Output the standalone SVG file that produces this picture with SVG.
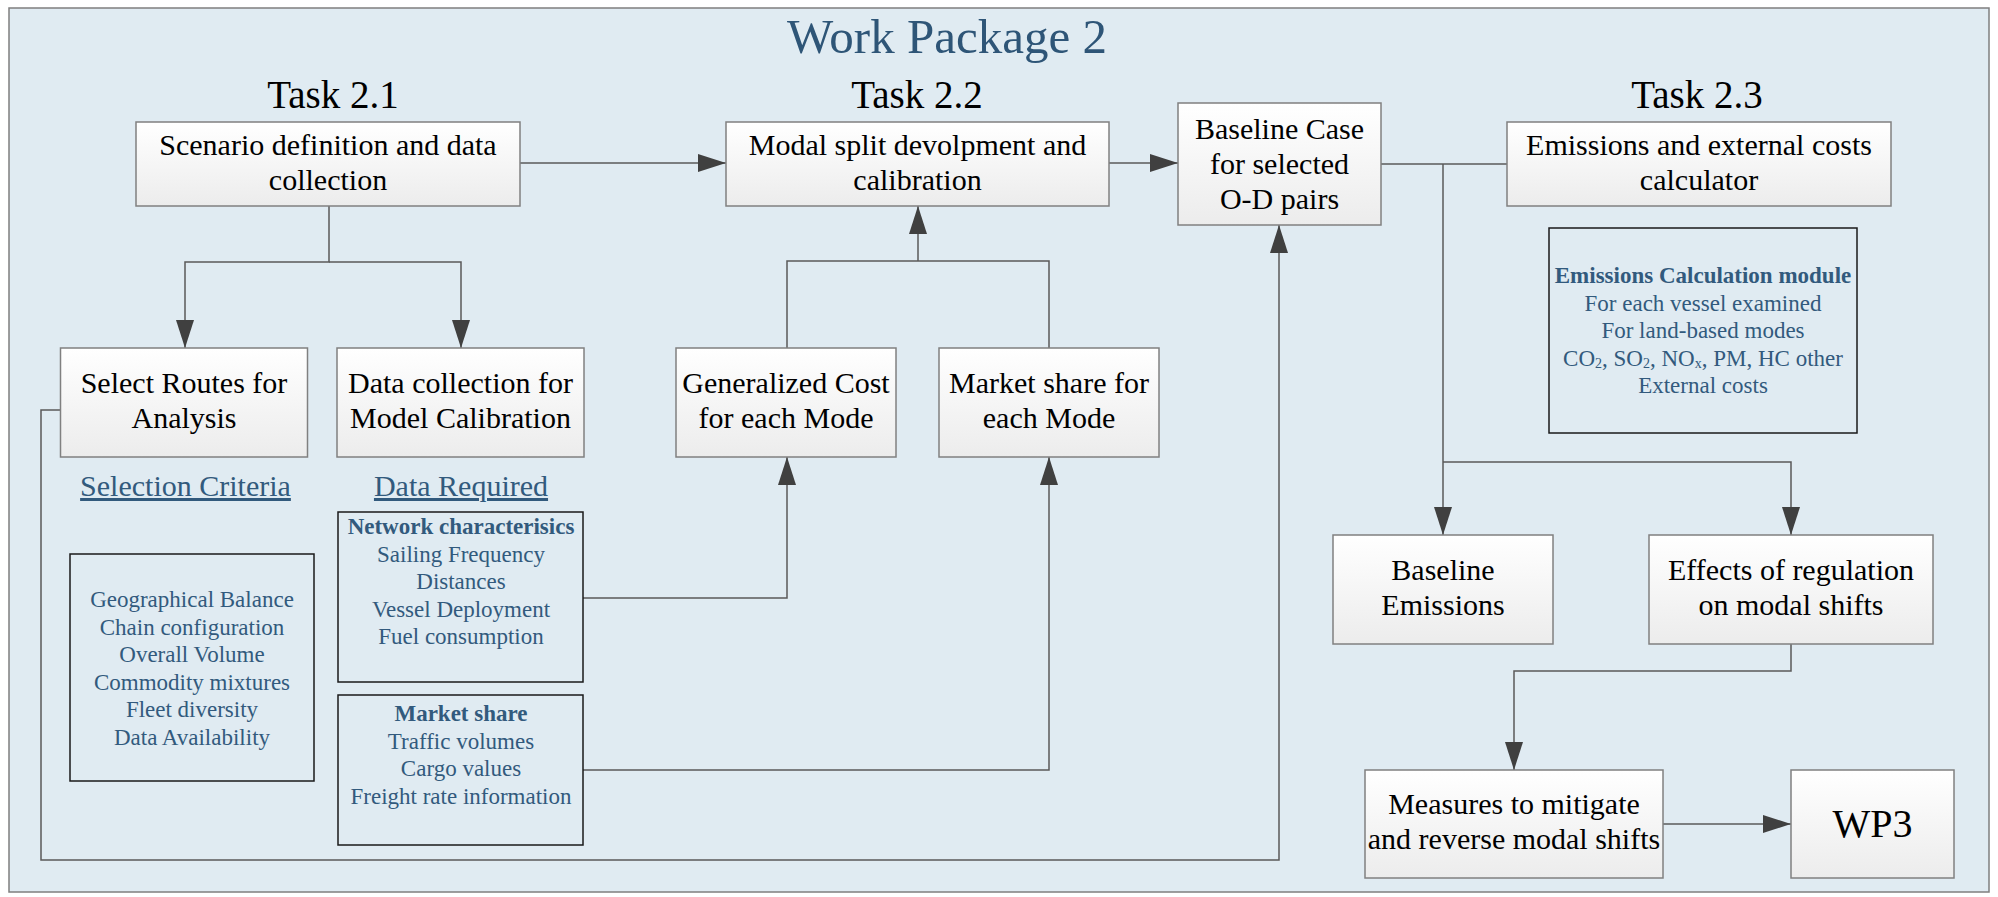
<svg xmlns="http://www.w3.org/2000/svg" width="1998" height="897" viewBox="0 0 1998 897">
<defs>
<linearGradient id="g" x1="0" y1="0" x2="0" y2="1">
<stop offset="0" stop-color="#FFFFFF"/>
<stop offset="1" stop-color="#ECECEC"/>
</linearGradient>
<marker id="a" viewBox="0 0 28 18" refX="28" refY="9" markerWidth="28" markerHeight="18" markerUnits="userSpaceOnUse" orient="auto">
<path d="M0,0 L28,9 L0,18 Z" fill="#404040"/>
</marker>
<style>
text{font-family:'Liberation Serif','Times New Roman','DejaVu Serif',serif}
.node{fill:url(#g);stroke:#808080;stroke-width:1.5}
.info{fill:none;stroke:#1A1A1A;stroke-width:1.5}
.t{font-size:30px;fill:#000;text-anchor:middle}
.h{font-size:39px;fill:#000;text-anchor:middle}
.b{font-size:23px;fill:#325A7D;text-anchor:middle}
.bb{font-weight:bold}
.u{font-size:30px;fill:#325A7D;text-anchor:middle;text-decoration:underline}
.c{fill:none;stroke:#5A5A5A;stroke-width:1.5}
</style>
</defs>
<rect x="9" y="8" width="1980" height="884" fill="#E0EBF2" stroke="#7F7F7F" stroke-width="1.5"/>
<text x="947" y="53" font-size="49" fill="#2E5577" text-anchor="middle">Work Package 2</text>
<text class="h" x="333" y="108">Task 2.1</text>
<text class="h" x="917" y="108">Task 2.2</text>
<text class="h" x="1697" y="108">Task 2.3</text>

<g id="connectors">
<path class="c" d="M520,163 H726" marker-end="url(#a)"/>
<path class="c" d="M329,206 V262 H185 V348" marker-end="url(#a)"/>
<path class="c" d="M329,262 H461 V348" marker-end="url(#a)"/>
<path class="c" d="M787,348 V261 H1049 V348"/>
<path class="c" d="M918,261 V206" marker-end="url(#a)"/>
<path class="c" d="M583,598 H787 V457" marker-end="url(#a)"/>
<path class="c" d="M583,770 H1049 V457" marker-end="url(#a)"/>
<path class="c" d="M60,410 H41 V860 H1279 V225" marker-end="url(#a)"/>
<path class="c" d="M1109,163 H1178" marker-end="url(#a)"/>
<path class="c" d="M1381,164 H1507"/>
<path class="c" d="M1443,164 V535" marker-end="url(#a)"/>
<path class="c" d="M1443,462 H1791 V535" marker-end="url(#a)"/>
<path class="c" d="M1791,644 V671 H1514 V770" marker-end="url(#a)"/>
<path class="c" d="M1663,824 H1791" marker-end="url(#a)"/>
</g>

<g id="scenario">
<rect class="node" x="136" y="122" width="384" height="84"/>
<text class="t" x="328" y="155">Scenario definition and data</text>
<text class="t" x="328" y="190">collection</text>
</g>
<g id="modal">
<rect class="node" x="726" y="122" width="383" height="84"/>
<text class="t" x="917.5" y="155">Modal split devolpment and</text>
<text class="t" x="917.5" y="190">calibration</text>
</g>
<g id="baseline-case">
<rect class="node" x="1178" y="103" width="203" height="122"/>
<text class="t" x="1279.5" y="139">Baseline Case</text>
<text class="t" x="1279.5" y="174">for selected</text>
<text class="t" x="1279.5" y="209">O-D pairs</text>
</g>
<g id="emissions-calc">
<rect class="node" x="1507" y="122" width="384" height="84"/>
<text class="t" x="1699" y="155">Emissions and external costs</text>
<text class="t" x="1699" y="190">calculator</text>
</g>
<g id="select-routes">
<rect class="node" x="60.5" y="348" width="247" height="109"/>
<text class="t" x="184" y="393">Select Routes for</text>
<text class="t" x="184" y="428">Analysis</text>
</g>
<g id="data-collection">
<rect class="node" x="337" y="348" width="247" height="109"/>
<text class="t" x="460.5" y="393">Data collection for</text>
<text class="t" x="460.5" y="428">Model Calibration</text>
</g>
<g id="generalized-cost">
<rect class="node" x="676" y="348" width="220" height="109"/>
<text class="t" x="786" y="393">Generalized Cost</text>
<text class="t" x="786" y="428">for each Mode</text>
</g>
<g id="market-share-mode">
<rect class="node" x="939" y="348" width="220" height="109"/>
<text class="t" x="1049" y="393">Market share for</text>
<text class="t" x="1049" y="428">each Mode</text>
</g>
<g id="selection-criteria">
<text class="u" x="185.5" y="496">Selection Criteria</text>
<rect class="info" x="70" y="554" width="244" height="227"/>
<text class="b" x="192" y="607">Geographical Balance</text>
<text class="b" x="192" y="634.5">Chain configuration</text>
<text class="b" x="192" y="662">Overall Volume</text>
<text class="b" x="192" y="689.5">Commodity mixtures</text>
<text class="b" x="192" y="717">Fleet diversity</text>
<text class="b" x="192" y="744.5">Data Availability</text>
</g>
<g id="data-required">
<text class="u" x="461" y="496">Data Required</text>
</g>
<g id="network">
<rect class="info" x="338" y="512" width="245" height="170"/>
<text class="b bb" x="461" y="534">Network characterisics</text>
<text class="b" x="461" y="561.5">Sailing Frequency</text>
<text class="b" x="461" y="589">Distances</text>
<text class="b" x="461" y="616.5">Vessel Deployment</text>
<text class="b" x="461" y="644">Fuel consumption</text>
</g>
<g id="market-share">
<rect class="info" x="338" y="695" width="245" height="150"/>
<text class="b bb" x="461" y="721">Market share</text>
<text class="b" x="461" y="748.5">Traffic volumes</text>
<text class="b" x="461" y="776">Cargo values</text>
<text class="b" x="461" y="803.5">Freight rate information</text>
</g>
<g id="emissions-module">
<rect class="info" x="1549" y="228" width="308" height="205"/>
<text class="b bb" x="1703" y="283">Emissions Calculation module</text>
<text class="b" x="1703" y="310.5">For each vessel examined</text>
<text class="b" x="1703" y="338">For land-based modes</text>
<text class="b" x="1703" y="365.5">CO<tspan font-size="14" dy="2">2</tspan><tspan dy="-2">, SO</tspan><tspan font-size="14" dy="2">2</tspan><tspan dy="-2">, NO</tspan><tspan font-size="14" dy="2">x</tspan><tspan dy="-2">, PM, HC other</tspan></text>
<text class="b" x="1703" y="393">External costs</text>
</g>
<g id="baseline-emissions">
<rect class="node" x="1333" y="535" width="220" height="109"/>
<text class="t" x="1443" y="580">Baseline</text>
<text class="t" x="1443" y="615">Emissions</text>
</g>
<g id="effects">
<rect class="node" x="1649" y="535" width="284" height="109"/>
<text class="t" x="1791" y="580">Effects of regulation</text>
<text class="t" x="1791" y="615">on modal shifts</text>
</g>
<g id="measures">
<rect class="node" x="1365" y="770" width="298" height="108"/>
<text class="t" x="1514" y="814">Measures to mitigate</text>
<text class="t" x="1514" y="849">and reverse modal shifts</text>
</g>
<g id="wp3">
<rect class="node" x="1791" y="770" width="163" height="108"/>
<text x="1872.5" y="837" font-size="40" text-anchor="middle">WP3</text>
</g>
</svg>
